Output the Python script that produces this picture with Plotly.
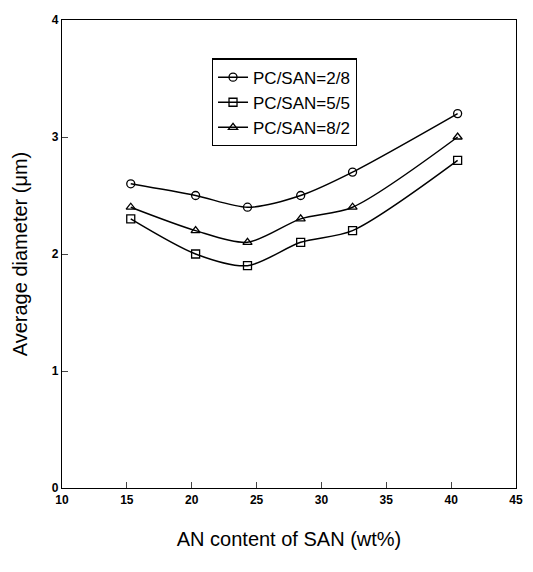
import plotly.graph_objects as go

an_content = [15.3, 20.3, 24.3, 28.4, 32.4, 40.5]
pc_san_2_8 = [2.6, 2.5, 2.4, 2.5, 2.7, 3.2]
pc_san_5_5 = [2.3, 2.0, 1.9, 2.1, 2.2, 2.8]
pc_san_8_2 = [2.4, 2.2, 2.1, 2.3, 2.4, 3.0]
x_ticks = [10, 15, 20, 25, 30, 35, 40, 45]
y_ticks = [0, 1, 2, 3, 4]

series = [
    ("PC/SAN=2/8", pc_san_2_8, "circle-open"),
    ("PC/SAN=5/5", pc_san_5_5, "square-open"),
    ("PC/SAN=8/2", pc_san_8_2, "triangle-up-open"),
]

fig = go.Figure()
for name, vals, sym in series:
    fig.add_trace(go.Scatter(
        x=an_content, y=vals, name=name, mode="lines+markers",
        line=dict(color="black", width=1.5, shape="spline", smoothing=0.8),
        marker=dict(symbol=sym, size=8, color="black", line=dict(width=1.3, color="black")),
    ))

tick_font = dict(size=12, family="Liberation Sans, Arial", weight="bold", color="black")

fig.update_layout(
    width=517, height=556,
    margin=dict(l=54, r=9, t=12, b=76, autoexpand=False),
    paper_bgcolor="white", plot_bgcolor="white",
    font=dict(family="Liberation Sans, Arial, sans-serif", color="black"),
    showlegend=True,
    legend=dict(
        x=0.33, y=0.918, xanchor="left", yanchor="top",
        bordercolor="black", borderwidth=1.2, bgcolor="white",
        font=dict(size=17), itemwidth=30, tracegroupgap=0,
    ),
    xaxis=dict(
        range=[10, 45], tickvals=x_ticks, ticks="inside", ticklen=6,
        showline=True, linecolor="black", linewidth=1.2, mirror=True,
        showgrid=False, zeroline=False, tickfont=tick_font,
        title=dict(text="AN content of SAN (wt%)", font=dict(size=20), standoff=26),
    ),
    yaxis=dict(
        range=[0, 4], tickvals=y_ticks, ticks="inside", ticklen=6,
        showline=True, linecolor="black", linewidth=1.2, mirror=True,
        showgrid=False, zeroline=False, tickfont=tick_font,
        title=dict(text="Average diameter (μm)", font=dict(size=20), standoff=18),
    ),
)

fig.write_html("out.html")
